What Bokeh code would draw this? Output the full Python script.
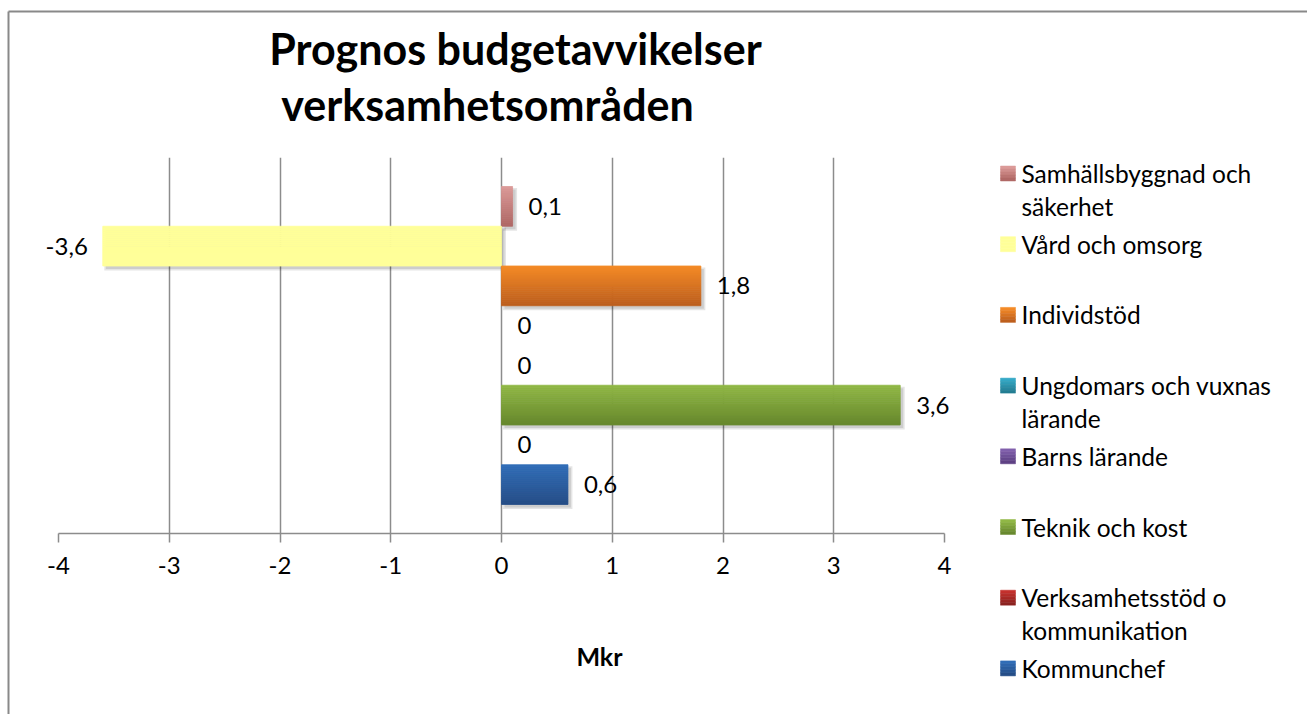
from bokeh.plotting import figure
from bokeh.models import Range1d, FixedTicker, ColumnDataSource, CustomJSTickFormatter
from bokeh.core.properties import value
from bokeh.embed import file_html
from bokeh.resources import INLINE

# ---------------- data ----------------
categories = [
    "Samhällsbyggnad och säkerhet",
    "Vård och omsorg",
    "Individstöd",
    "Ungdomars och vuxnas lärande",
    "Barns lärande",
    "Teknik och kost",
    "Verksamhetsstöd o kommunikation",
    "Kommunchef",
]
legend_lines = [
    ["Samhällsbyggnad och", "säkerhet"],
    ["Vård och omsorg"],
    ["Individstöd"],
    ["Ungdomars och vuxnas", "lärande"],
    ["Barns lärande"],
    ["Teknik och kost"],
    ["Verksamhetsstöd o", "kommunikation"],
    ["Kommunchef"],
]
values = [0.1, -3.6, 1.8, 0.0, 0.0, 3.6, 0.0, 0.6]
top_colors = ["#DB9A98", "#FFFF99", "#F38A27", "#35A8C6", "#8060AC", "#90B745", "#C4312D", "#306DB7"]
bottom_colors = ["#B06866", "#FFFF99", "#BE5F1D", "#237E93", "#5E4184", "#68892E", "#8C2320", "#264E88"]
x_ticks = [-4, -3, -2, -1, 0, 1, 2, 3, 4]
title_lines = ["Prognos budgetavvikelser", "verksamhetsområden"]
axis_title = "Mkr"

# ---------------- layout constants (pixels) ----------------
W, H = 1307, 714
FL, FR, FT, FB = 58, 944, 157, 533
PAD = 0.73
FONT = "Lato"
GRAY = "#8c8c8c"

n = len(values)
Y_TOP = -0.5 - PAD
Y_BOT = n - 0.5 + PAD
px_x = (FR - FL) / (x_ticks[-1] - x_ticks[0])
px_y = (FB - FT) / (Y_BOT - Y_TOP)


def dx(X):
    # canvas pixel -> data x
    return x_ticks[0] + (X - FL) / px_x


def dy(Y):
    # canvas pixel -> data y (reversed range, grows downward)
    return Y_TOP + (Y - FT) / px_y


def hex2rgb(h):
    h = h.lstrip("#")
    return tuple(int(h[i:i + 2], 16) for i in (0, 2, 4))


def mix(a, b, t):
    ra, rb = hex2rgb(a), hex2rgb(b)
    return "#%02x%02x%02x" % tuple(round(ra[j] + (rb[j] - ra[j]) * t) for j in range(3))


p = figure(
    width=W, height=H,
    x_range=Range1d(x_ticks[0], x_ticks[-1]),
    y_range=Range1d(Y_BOT, Y_TOP),
    output_backend="svg", toolbar_location=None,
    y_axis_location=None,
    min_border_left=FL, min_border_right=W - FR,
    min_border_top=FT, min_border_bottom=H - FB,
)
p.outline_line_color = None
p.background_fill_color = "white"
p.border_fill_color = "white"

# grid & axis
p.xgrid.grid_line_color = GRAY
p.xgrid.grid_line_width = 1.5
p.ygrid.grid_line_color = None
ax = p.xaxis[0]
ax.ticker = FixedTicker(ticks=x_ticks)
ax.formatter = CustomJSTickFormatter(code="return String(tick)")
ax.axis_line_color = GRAY
ax.axis_line_width = 1.5
ax.major_tick_line_color = GRAY
ax.major_tick_line_width = 1.5
ax.major_tick_out = 9
ax.major_tick_in = 0
ax.minor_tick_line_color = None
ax.major_label_text_font = FONT
ax.major_label_text_font_size = "24px"
ax.major_label_text_color = "#000000"
ax.major_label_standoff = 14

# shadows
for off, alpha, grow in ((3, 0.10, 1.5), (3, 0.10, 0)):
    sh = dict(y=[], left=[], right=[], h=[])
    for i, v in enumerate(values):
        if v == 0:
            continue
        sh["y"].append(i + off / px_y)
        sh["left"].append(min(0, v) + (off - grow) / px_x)
        sh["right"].append(max(0, v) + (off + grow) / px_x)
        sh["h"].append(1.0 + 2 * grow / px_y)
    p.hbar(y="y", left="left", right="right", height="h", source=ColumnDataSource(sh),
           fill_color="black", fill_alpha=alpha, line_color=None)

# bars with vertical gradient strips
N = 20
bars = dict(y=[], left=[], right=[], h=[], c=[])
for i, v in enumerate(values):
    if v == 0:
        continue
    for k in range(N):
        bars["y"].append(i - 0.5 + (k + 0.5) / N)
        bars["left"].append(min(0, v))
        bars["right"].append(max(0, v))
        bars["h"].append(1.0 / N)
        bars["c"].append(mix(top_colors[i], bottom_colors[i], k / (N - 1)))
p.hbar(y="y", left="left", right="right", height="h", source=ColumnDataSource(bars),
       fill_color="c", line_color="c", line_width=0.8)


# data labels (overlay level so they are not clipped at the frame edge)
def fmt(v):
    return "0" if v == 0 else ("%.1f" % v).replace(".", ",")


pos = dict(x=[], y=[], t=[])
neg = dict(x=[], y=[], t=[])
for i, v in enumerate(values):
    d = neg if v < 0 else pos
    d["x"].append(v)
    d["y"].append(i)
    d["t"].append(fmt(v))
common = dict(text_font=value(FONT), text_font_size="24px", text_color="#000000",
              text_baseline="middle", level="overlay")
p.text(x="x", y="y", text="t", source=ColumnDataSource(pos), x_offset=16, text_align="left", **common)
p.text(x="x", y="y", text="t", source=ColumnDataSource(neg), x_offset=-15, text_align="right", **common)

# title
title_pos = [(515, 48), (487, 104)]
p.text(x=[dx(c) for c, _ in title_pos], y=[dy(b) for _, b in title_pos], text=title_lines,
       text_font=value(FONT), text_font_size="43px", text_font_style="bold",
       text_align="center", text_baseline="middle", text_color="#000000", level="overlay")

# axis title
p.text(x=[dx(599)], y=[dy(655)], text=[axis_title],
       text_font=value(FONT), text_font_size="25px", text_font_style="bold",
       text_align="center", text_baseline="middle", text_color="#000000", level="overlay")

# legend (manual, outside the frame)
LX_SQ, LX_TXT, L_C0, L_PITCH, L_LINE, SQ = 1000, 1021, 173, 70.7, 33, 15
steps = 5
sq = dict(left=[], right=[], top=[], bottom=[], c=[])
lt = dict(x=[], y=[], t=[])
for i, lines in enumerate(legend_lines):
    c0 = L_C0 + i * L_PITCH
    for k in range(steps):
        t0 = c0 - SQ / 2 + k * SQ / steps
        sq["left"].append(dx(LX_SQ))
        sq["right"].append(dx(LX_SQ + SQ))
        sq["top"].append(dy(t0))
        sq["bottom"].append(dy(t0 + SQ / steps))
        sq["c"].append(mix(top_colors[i], bottom_colors[i], k / (steps - 1)))
    for j, line in enumerate(lines):
        lt["x"].append(dx(LX_TXT))
        lt["y"].append(dy(c0 + j * L_LINE))
        lt["t"].append(line)
p.quad(left="left", right="right", top="top", bottom="bottom", source=ColumnDataSource(sq),
       fill_color="c", line_color="c", line_width=0.5, level="overlay")
p.text(x="x", y="y", text="t", source=ColumnDataSource(lt),
       text_font=value(FONT), text_font_size="24.5px", text_align="left",
       text_baseline="middle", text_color="#000000", level="overlay")

# chart border (top and left edges of the chart area)
p.segment(x0=[dx(8), dx(8)], y0=[dy(11), dy(11)], x1=[dx(1400), dx(8)], y1=[dy(11), dy(800)],
          line_color="#898989", line_width=2, level="overlay")

open("out.html", "w").write(file_html(p, INLINE))
